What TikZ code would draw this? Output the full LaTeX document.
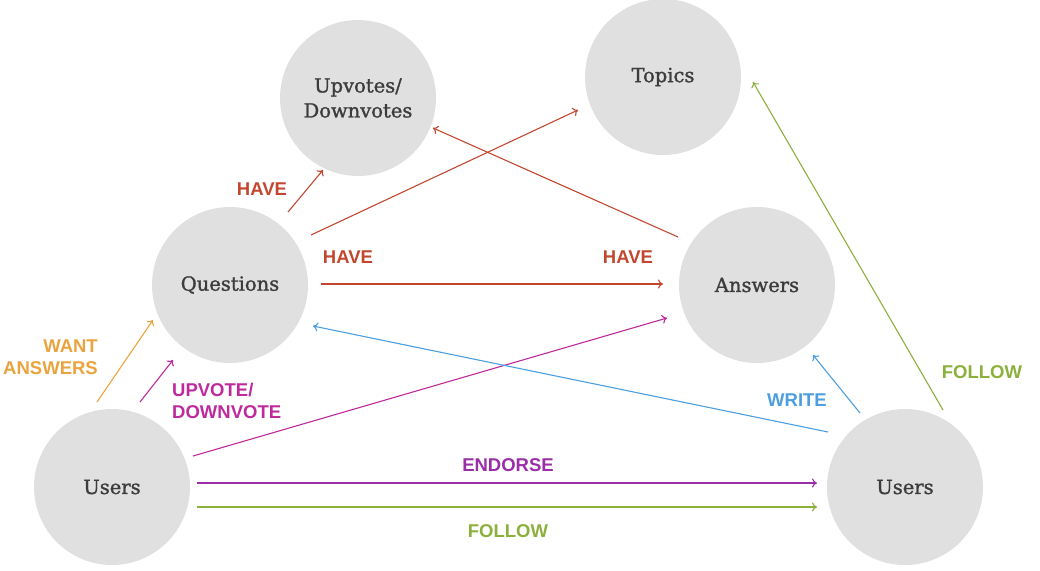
\documentclass[tikz,border=0pt]{standalone}
\usepackage{fontspec}
\newfontfamily\entfont[FakeBold=1.3]{DejaVu Serif}
\newfontfamily\labelfont{Liberation Sans}
\usetikzlibrary{arrows.meta}
\definecolor{circlegray}{HTML}{E0E0E0}
\definecolor{textgray}{HTML}{3C3C3C}
\definecolor{cOrange}{HTML}{E9A43F}
\definecolor{cMagenta}{HTML}{BE2A9C}
\definecolor{cPurple}{HTML}{9A2DA8}
\definecolor{cRed}{HTML}{C2472E}
\definecolor{cBlue}{HTML}{4C9EDF}
\definecolor{cGreen}{HTML}{8CB03C}
\tikzset{
  entity/.style={circle, fill=circlegray, minimum size=156pt, inner sep=0pt,
    font=\entfont\fontsize{19.5}{25}\selectfont, text=textgray, align=center},
  rel/.style={line width=1.1pt, -{To[length=5pt,width=9pt]}},
  lbl/.style={font=\labelfont\bfseries\fontsize{18.5}{22}\selectfont, inner sep=0pt},
}
\begin{document}
\begin{tikzpicture}[x=1pt,y=-1pt]
\useasboundingbox (0,0) rectangle (1040,570);

% entities
\node[entity] (votes) at (358,98) {Upvotes/\\Downvotes};
\node[entity] (topics) at (663,77) {Topics};
\node[entity] (questions) at (230,285) {Questions};
\node[entity] (answers) at (757,285) {Answers};
\node[entity] (usersL) at (112,487) {Users};
\node[entity] (usersR) at (905,487) {Users};

% connector end points
\coordinate (wa1) at (97,402);   \coordinate (wa2) at (153,320);
\coordinate (uv1) at (140,402);  \coordinate (uv2) at (173,360);
\coordinate (ua1) at (193,456);  \coordinate (ua2) at (667,318);
\coordinate (en1) at (197,483);  \coordinate (en2) at (817,483);
\coordinate (fo1) at (197,507);  \coordinate (fo2) at (817,507);
\coordinate (wr1) at (860,413);  \coordinate (wr2) at (813,355);
\coordinate (wq1) at (828,432);  \coordinate (wq2) at (313,326);
\coordinate (ft1) at (943,410);  \coordinate (ft2) at (753,82);
\coordinate (qv1) at (288,212);  \coordinate (qv2) at (323,170);
\coordinate (qt1) at (311,235);  \coordinate (qt2) at (578,110);
\coordinate (av1) at (678,237);  \coordinate (av2) at (433,128);
\coordinate (qa1) at (321,284);  \coordinate (qa2) at (663,284);

% connectors
\draw[rel, cOrange] (wa1) -- (wa2);
\draw[rel, cMagenta] (uv1) -- (uv2);
\draw[rel, cMagenta] (ua1) -- (ua2);
\draw[rel, cPurple] (en1) -- (en2);
\draw[rel, cGreen] (fo1) -- (fo2);
\draw[rel, cBlue] (wr1) -- (wr2);
\draw[rel, cBlue] (wq1) -- (wq2);
\draw[rel, cGreen] (ft1) -- (ft2);
\draw[rel, cRed] (qv1) -- (qv2);
\draw[rel, cRed] (qt1) -- (qt2);
\draw[rel, cRed] (av1) -- (av2);
\draw[rel, cRed] (qa1) -- (qa2);

% labels
\node[lbl, cOrange, align=right, anchor=east] (lwant) at (98,357) {WANT\\ANSWERS};
\node[lbl, cMagenta, align=left, anchor=west] (lupvote) at (172,401) {UPVOTE/\\DOWNVOTE};
\node[lbl, cPurple] (lendorse) at (508,465) {ENDORSE};
\node[lbl, cGreen] (lfollow) at (508,531) {FOLLOW};
\node[lbl, cBlue] (lwrite) at (797,400) {WRITE};
\node[lbl, cGreen] (lfollowT) at (982,372) {FOLLOW};
\node[lbl, cRed] (lhave1) at (262,189) {HAVE};
\node[lbl, cRed] (lhave2) at (348,257) {HAVE};
\node[lbl, cRed] (lhave3) at (628,257) {HAVE};
\end{tikzpicture}
\end{document}
